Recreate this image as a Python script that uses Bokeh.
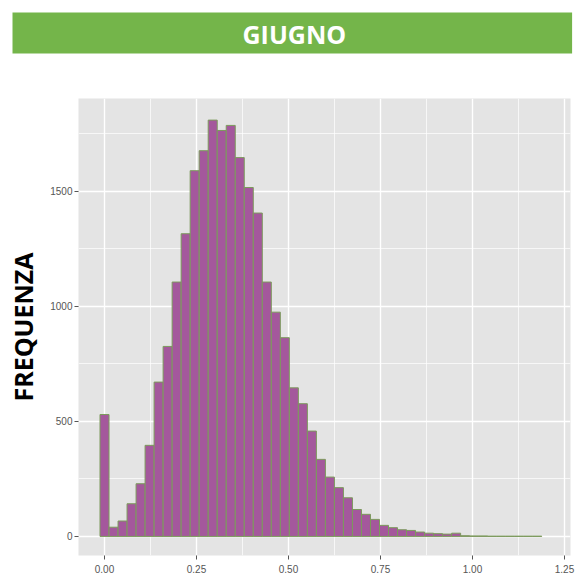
from bokeh.plotting import figure
from bokeh.models import Range1d, FixedTicker, ColumnDataSource, Title
from bokeh.embed import file_html
from bokeh.resources import INLINE

# ---- data ----
title_text = "GIUGNO"
y_label = "FREQUENZA"
BIN_W = 0.0245
counts = [530, 40, 67, 142, 229, 396, 671, 826, 1106, 1316,
          1590, 1677, 1810, 1765, 1787, 1647, 1517, 1406, 1106, 975,
          864, 646, 577, 458, 335, 258, 212, 168, 117, 96,
          74, 48, 38, 29, 26, 19, 14, 12, 10, 14,
          3, 2, 2, 1, 1, 1, 1, 1, 1]
x_ticks = [0.0, 0.25, 0.5, 0.75, 1.0, 1.25]
x_tick_labels = ["0.00", "0.25", "0.50", "0.75", "1.00", "1.25"]
x_minor = [0.125, 0.375, 0.625, 0.875, 1.125]
y_ticks = [0, 500, 1000, 1500]
y_minor = [250, 750, 1250, 1750]

centers = [i * BIN_W for i in range(len(counts))]
src = ColumnDataSource(dict(x=centers, top=counts))

GREEN = "#74b54a"

p = figure(width=576, height=587, output_backend="svg", toolbar_location=None,
           x_range=Range1d(-0.0707, 1.2663), y_range=Range1d(-83, 1904),
           min_border_left=78, min_border_right=6, min_border_top=98, min_border_bottom=32)
p.background_fill_color = "#e4e4e4"
p.border_fill_color = "white"
p.outline_line_color = None
p.title.visible = False

# spacer between banner and panel, then the green banner title
p.add_layout(Title(text=" ", text_font_size="1px", standoff=42), "above")
p.add_layout(Title(text=title_text, align="left", offset=-66, text_color="white",
                   text_font="Open Sans", text_font_style="bold", text_font_size="25px",
                   background_fill_color=GREEN,
                   padding=dict(left=230, right=226, top=4, bottom=3), standoff=0), "above")

p.vbar(x="x", top="top", bottom=0, width=BIN_W, source=src,
       fill_color="#a4589c", line_color="#7c9a5c", line_width=1)

p.xaxis.ticker = FixedTicker(ticks=x_ticks, minor_ticks=x_minor)
p.yaxis.ticker = FixedTicker(ticks=y_ticks, minor_ticks=y_minor)
p.xaxis.major_label_overrides = {t: l for t, l in zip(x_ticks, x_tick_labels)}

for ax in (p.xaxis, p.yaxis):
    ax.axis_line_color = None
    ax.major_tick_line_color = "#555555"
    ax.major_tick_out = 4
    ax.major_tick_in = 0
    ax.minor_tick_line_color = None
    ax.major_label_text_font = "Liberation Sans"
    ax.major_label_text_font_size = "10px"
    ax.major_label_text_color = "#555555"

p.xaxis.major_label_standoff = 5
p.yaxis.major_label_standoff = 2

p.yaxis.axis_label = y_label
p.yaxis.axis_label_text_font = "Open Sans"
p.yaxis.axis_label_text_font_style = "bold"
p.yaxis.axis_label_text_font_size = "25px"
p.yaxis.axis_label_text_color = "black"
p.yaxis.axis_label_standoff = 7

p.grid.grid_line_color = "white"
p.grid.grid_line_width = 1.4
p.grid.minor_grid_line_color = "white"
p.grid.minor_grid_line_width = 0.7

open("out.html", "w").write(file_html(p, INLINE))
